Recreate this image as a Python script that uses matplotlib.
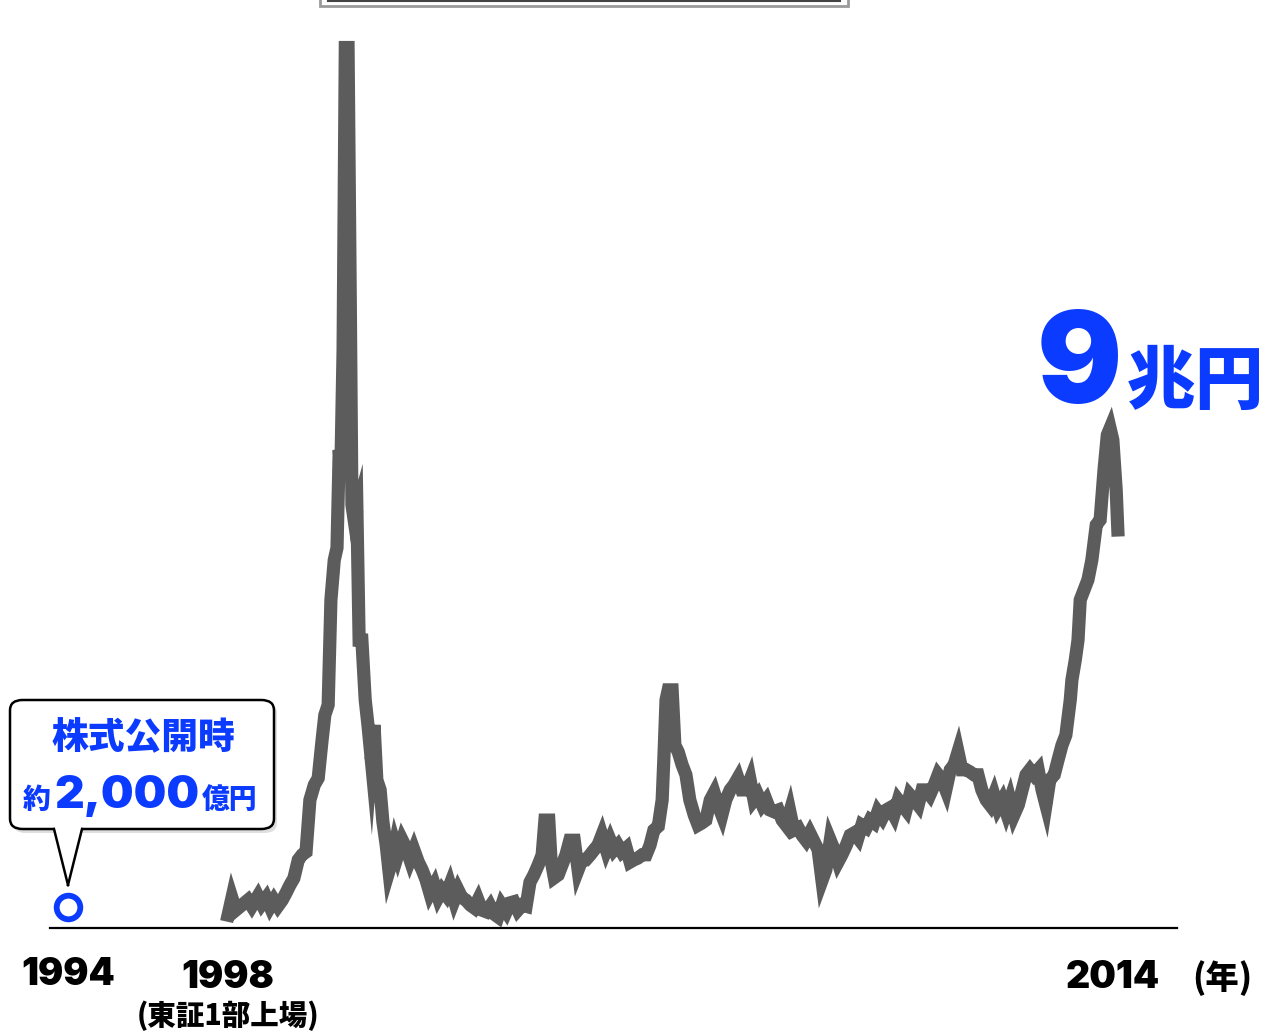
import matplotlib
matplotlib.use("Agg")
import matplotlib.pyplot as plt
from matplotlib.patches import FancyBboxPatch, Polygon, Rectangle
from matplotlib.lines import Line2D

plt.rcParams['font.family'] = ['Noto Sans CJK JP', 'DejaVu Sans']

# --- data: market cap (兆円) by decimal year ---
years = [1998.00, 1998.07, 1998.14, 1998.25, 1998.36, 1998.43, 1998.54, 1998.61, 1998.69, 1998.76,
         1998.83, 1998.90, 1998.98, 1999.05, 1999.12, 1999.19, 1999.27, 1999.34, 1999.41, 1999.48,
         1999.56, 1999.63, 1999.70, 1999.75, 1999.81, 1999.86, 1999.92, 1999.97, 2000.01, 2000.04,
         2000.08, 2000.12, 2000.17, 2000.21, 2000.24, 2000.28, 2000.33, 2000.37, 2000.42, 2000.48,
         2000.53, 2000.59, 2000.64, 2000.69, 2000.75, 2000.80, 2000.86, 2000.91, 2000.97, 2001.02,
         2001.07, 2001.15, 2001.22, 2001.29, 2001.36, 2001.44, 2001.51, 2001.58, 2001.65, 2001.73,
         2001.80, 2001.87, 2001.94, 2002.01, 2002.09, 2002.16, 2002.23, 2002.30, 2002.38, 2002.45,
         2002.52, 2002.59, 2002.67, 2002.74, 2002.81, 2002.88, 2002.95, 2003.03, 2003.10, 2003.17,
         2003.24, 2003.32, 2003.39, 2003.46, 2003.53, 2003.61, 2003.68, 2003.73, 2003.80, 2003.84,
         2003.90, 2003.97, 2004.04, 2004.11, 2004.18, 2004.26, 2004.33, 2004.40, 2004.47, 2004.55,
         2004.62, 2004.69, 2004.76, 2004.84, 2004.91, 2004.98, 2005.05, 2005.12, 2005.20, 2005.27,
         2005.34, 2005.41, 2005.49, 2005.56, 2005.63, 2005.70, 2005.78, 2005.85, 2005.88, 2005.92,
         2005.96, 2006.03, 2006.08, 2006.14, 2006.21, 2006.28, 2006.35, 2006.43, 2006.50, 2006.57,
         2006.64, 2006.72, 2006.79, 2006.86, 2006.93, 2007.00, 2007.08, 2007.15, 2007.22, 2007.29,
         2007.37, 2007.44, 2007.51, 2007.58, 2007.66, 2007.73, 2007.80, 2007.87, 2007.95, 2008.02,
         2008.09, 2008.16, 2008.23, 2008.31, 2008.38, 2008.45, 2008.52, 2008.60, 2008.67, 2008.74,
         2008.81, 2008.89, 2008.96, 2009.03, 2009.10, 2009.18, 2009.25, 2009.32, 2009.39, 2009.46,
         2009.54, 2009.61, 2009.68, 2009.75, 2009.83, 2009.90, 2009.97, 2010.04, 2010.12, 2010.19,
         2010.26, 2010.33, 2010.41, 2010.48, 2010.55, 2010.62, 2010.69, 2010.77, 2010.84, 2010.91,
         2010.98, 2011.06, 2011.13, 2011.20, 2011.27, 2011.35, 2011.42, 2011.49, 2011.56, 2011.63,
         2011.71, 2011.78, 2011.85, 2011.92, 2012.00, 2012.07, 2012.14, 2012.21, 2012.29, 2012.36,
         2012.43, 2012.50, 2012.57, 2012.65, 2012.72, 2012.79, 2012.86, 2012.94, 2013.01, 2013.08,
         2013.15, 2013.23, 2013.26, 2013.32, 2013.37, 2013.41, 2013.48, 2013.55, 2013.62, 2013.70,
         2013.77, 2013.84, 2013.90, 2013.95, 2014.00, 2014.06, 2014.09]
cap = [0.23, 0.54, 0.32, 0.41, 0.50, 0.39, 0.57, 0.43, 0.54, 0.38,
       0.50, 0.39, 0.50, 0.63, 0.77, 0.89, 1.22, 1.31, 1.36, 2.29,
       2.56, 2.68, 3.36, 3.81, 3.99, 5.87, 6.58, 6.80, 8.55, 8.19,
       10.34, 15.75, 15.75, 11.23, 7.57, 7.30, 7.48, 5.15, 5.15, 4.08,
       3.63, 3.01, 3.63, 2.65, 2.47, 1.90, 1.48, 1.02, 1.22, 1.48,
       1.31, 1.57, 1.43, 1.22, 1.40, 1.18, 1.04, 0.86, 0.62, 0.77,
       0.55, 0.68, 0.59, 0.77, 0.50, 0.68, 0.54, 0.50, 0.41, 0.36,
       0.50, 0.32, 0.29, 0.39, 0.25, 0.20, 0.41, 0.29, 0.45, 0.47,
       0.32, 0.41, 0.39, 0.82, 0.95, 1.13, 1.31, 1.93, 1.93, 1.22,
       0.90, 0.95, 1.13, 1.31, 1.57, 1.57, 1.04, 1.22, 1.22, 1.31,
       1.40, 1.48, 1.66, 1.40, 1.57, 1.40, 1.48, 1.36, 1.43, 1.18,
       1.22, 1.25, 1.31, 1.31, 1.48, 1.75, 1.82, 2.29, 3.01, 4.08,
       4.26, 4.26, 3.27, 3.15, 2.92, 2.74, 2.29, 2.02, 1.84, 1.88,
       1.93, 2.29, 2.42, 2.20, 2.02, 2.29, 2.47, 2.56, 2.68, 2.47,
       2.47, 2.65, 2.29, 2.38, 2.20, 2.29, 2.11, 2.08, 2.11, 1.93,
       1.84, 2.08, 1.75, 1.79, 1.66, 1.57, 1.70, 1.54, 1.40, 0.85,
       1.04, 1.57, 1.40, 1.18, 1.31, 1.48, 1.66, 1.70, 1.61, 1.84,
       1.79, 1.93, 1.88, 2.08, 1.97, 2.11, 2.15, 2.02, 2.29, 2.20,
       2.11, 2.38, 2.29, 2.20, 2.47, 2.47, 2.38, 2.56, 2.74, 2.65,
       2.47, 2.83, 2.92, 3.15, 2.83, 2.83, 2.79, 2.74, 2.74, 2.47,
       2.29, 2.20, 2.38, 2.15, 2.29, 2.08, 2.29, 2.02, 2.20, 2.47,
       2.74, 2.83, 2.74, 2.83, 2.47, 2.20, 2.65, 2.74, 3.01, 3.27,
       3.45, 4.08, 4.44, 4.79, 5.15, 5.87, 6.05, 6.23, 6.58, 7.21,
       7.30, 8.19, 8.82, 8.94, 8.73, 7.84, 7.12]

ipo_year_pos = 1995.11   # 1994 point sits left of the linear scale
ipo_cap = 0.38
tick_pos = [1995.11, 1998.0, 2014.0]
tick_labels = ['1994', '1998', '2014']

BLUE = '#0b3bff'
W, H = 1266, 1033
X0, X1 = 1994.78, 2015.16


def px(x, y):
    return (x / W, 1 - y / H)


fig = plt.figure(figsize=(12.66, 10.33), dpi=100)
ax = fig.add_axes([50 / W, (H - 928) / H, (1177 - 50) / W, 928 / H])
ax.set_xlim(X0, X1)
ax.set_ylim(0, 16.6)
for s in ['top', 'right', 'left']:
    ax.spines[s].set_visible(False)
ax.spines['bottom'].set_linewidth(1.6)
ax.spines['bottom'].set_color('black')
ax.set_yticks([])
ax.set_xticks([])

ax.plot(years, cap, color='#5c5c5c', lw=9.5, solid_joinstyle='miter', clip_on=False, zorder=3)
ax.plot([ipo_year_pos], [ipo_cap], marker='o', ms=17, mfc='white', mec=BLUE, mew=4.2,
        clip_on=False, zorder=4)

# year labels
lbl_y = {'1994': 975, '1998': 978, '2014': 978}
for pos, lab in zip(tick_pos, tick_labels):
    xpix = 50 + (pos - X0) / (X1 - X0) * (1177 - 50)
    fig.text(*px(xpix, lbl_y[lab]), lab, ha='center', va='center', family='Inter',
             fontsize=27, fontweight=900, color='black')
fig.text(*px(228, 1016), '(東証1部上場)', ha='center', va='center', fontsize=20.5,
         fontweight='black', color='black')
fig.text(*px(1222, 978), '(年)', ha='center', va='center', fontsize=24,
         fontweight='black', color='black')

# 9兆円 label
fig.text(*px(1122, 403), '9', ha='right', va='baseline', family='Inter', fontsize=91,
         fontweight=900, color=BLUE)
fig.text(*px(1127, 403), '兆円', ha='left', va='baseline', fontsize=49.5,
         fontweight='black', color=BLUE)

# callout
shadow = FancyBboxPatch(px(13, 833), 264 / W, 130 / H, transform=fig.transFigure,
                        boxstyle='round,pad=0,rounding_size=0.01', fc='#c8c8c8', ec='none',
                        alpha=0.6, zorder=5)
box = FancyBboxPatch(px(10, 829), 264 / W, 129 / H, transform=fig.transFigure,
                     boxstyle='round,pad=0,rounding_size=0.01', fc='white', ec='black',
                     lw=1.8, zorder=6)
fig.patches.extend([shadow, box])
tail = Polygon([px(54, 826), px(68, 885), px(82, 826)], closed=True, transform=fig.transFigure,
               fc='white', ec='none', zorder=7)
fig.patches.append(tail)
for a, b in [((54, 829), (68, 885)), ((82, 829), (68, 885))]:
    fig.lines.append(Line2D([px(*a)[0], px(*b)[0]], [px(*a)[1], px(*b)[1]],
                            transform=fig.transFigure, color='black', lw=1.8, zorder=8))
fig.text(*px(143, 738), '株式公開時', ha='center', va='center', fontsize=26.5,
         fontweight='black', color=BLUE, zorder=9)
fig.text(*px(23, 808), '約', ha='left', va='baseline', fontsize=20,
         fontweight='black', color=BLUE, zorder=9)
fig.text(*px(54, 808), '2,000', ha='left', va='baseline', family='Inter', fontsize=33,
         fontweight=900, color=BLUE, zorder=9)
fig.text(*px(202, 808), '億円', ha='left', va='baseline', fontsize=20,
         fontweight='black', color=BLUE, zorder=9)

# top box, cut off at the edge
fig.patches.append(Rectangle(px(320, 6), 528 / W, 40 / H, transform=fig.transFigure,
                             fc='white', ec='#9a9a9a', lw=2, zorder=5))
fig.lines.append(Line2D([px(328, 0)[0], px(840, 0)[0]], [px(0, 1)[1], px(0, 1)[1]],
                        transform=fig.transFigure, color='#444444', lw=1.5, zorder=6))

fig.savefig('out.png', dpi=100)
